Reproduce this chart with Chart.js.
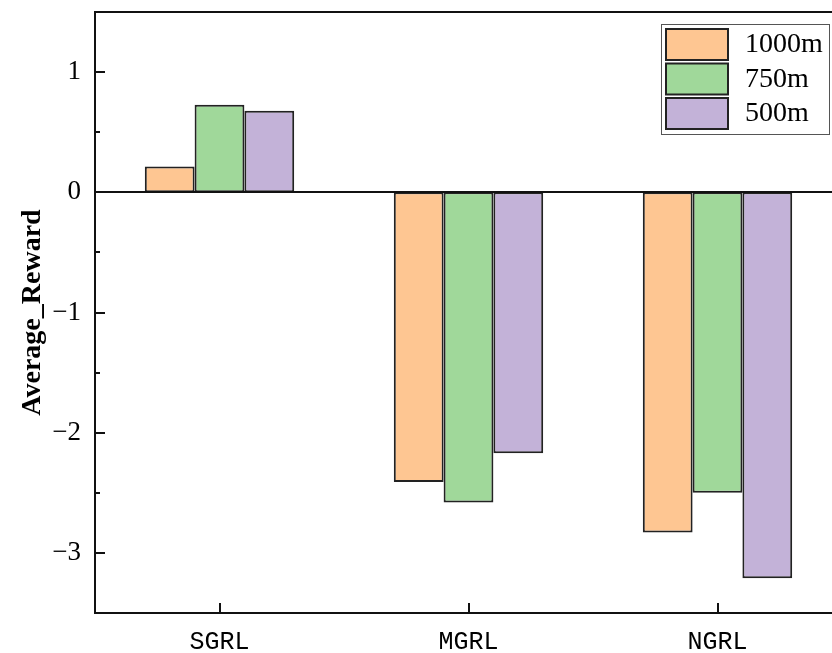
<!DOCTYPE html>
<html>
<head>
<meta charset="utf-8">
<script src="https://cdn.jsdelivr.net/npm/chart.js@4"></script>
<style>
  html, body { margin: 0; padding: 0; background: #fff; overflow: hidden; }
  #wrap { width: 852px; height: 653px; position: relative; }
</style>
</head>
<body>
<div id="wrap"><canvas id="barChart"></canvas></div>
<script>
var categories = ["SGRL", "MGRL", "NGRL"];
var seriesNames = ["1000m", "750m", "500m"];
var values1000 = [0.214, -2.41, -2.83];
var values750 = [0.728, -2.58, -2.50];
var values500 = [0.678, -2.17, -3.21];
var yTicks = [-3, -2, -1, 0, 1];
var yMin = -3.5, yMax = 1.5;

var fills = ['#fec692', '#a0d89a', '#c3b2d8'];

// frame, zero line, inward ticks
var framePlugin = {
  id: 'frame',
  afterDraw: function (chart) {
    var ctx = chart.ctx, a = chart.chartArea;
    var y = chart.scales.y, x = chart.scales.x;
    ctx.save();
    ctx.strokeStyle = '#111';
    ctx.lineWidth = 2;
    ctx.strokeRect(a.left, a.top, a.right - a.left, a.bottom - a.top);
    var z = Math.round(y.getPixelForValue(0));
    ctx.beginPath();
    ctx.moveTo(a.left, z); ctx.lineTo(a.right, z);
    ctx.stroke();
    ctx.beginPath();
    for (var v = Math.ceil(yMin * 2) / 2; v < yMax; v += 0.5) {
      var py = Math.round(y.getPixelForValue(v));
      var len = (v % 1 === 0) ? 10 : 5;
      ctx.moveTo(a.left, py); ctx.lineTo(a.left + len, py);
    }
    for (var i = 0; i < categories.length; i++) {
      var px = Math.round(x.getPixelForValue(i));
      ctx.moveTo(px, a.bottom); ctx.lineTo(px, a.bottom - 10);
    }
    ctx.stroke();
    ctx.restore();
  }
};

// legend box in upper right of plot
var legendPlugin = {
  id: 'boxLegend',
  afterDraw: function (chart) {
    var ctx = chart.ctx, a = chart.chartArea;
    var bx = a.right - 181, by = a.top + 12, bw = 168, bh = 110;
    ctx.save();
    ctx.fillStyle = '#fff';
    ctx.fillRect(bx, by, bw, bh);
    ctx.strokeStyle = '#555';
    ctx.lineWidth = 1;
    ctx.strokeRect(bx + 0.5, by + 0.5, bw, bh);
    ctx.font = '28px "Liberation Serif"';
    ctx.textBaseline = 'middle';
    chart.data.datasets.forEach(function (ds, i) {
      var sy = by + 5 + i * 34.5;
      ctx.fillStyle = ds.backgroundColor;
      ctx.fillRect(bx + 5, sy, 62, 31);
      ctx.strokeStyle = '#222';
      ctx.lineWidth = 2;
      ctx.strokeRect(bx + 5, sy, 62, 31);
      ctx.fillStyle = '#000';
      ctx.fillText(ds.label, bx + 84, sy + 16);
    });
    ctx.restore();
  }
};

var ctxB = document.getElementById('barChart').getContext('2d');
var myBarChart = new Chart(ctxB, {
  type: 'bar',
  data: {
    labels: categories,
    datasets: [
      { label: seriesNames[0], data: values1000, backgroundColor: fills[0], borderColor: '#222', borderWidth: 2, borderSkipped: false },
      { label: seriesNames[1], data: values750, backgroundColor: fills[1], borderColor: '#222', borderWidth: 2, borderSkipped: false },
      { label: seriesNames[2], data: values500, backgroundColor: fills[2], borderColor: '#222', borderWidth: 2, borderSkipped: false }
    ]
  },
  options: {
    responsive: true,
    maintainAspectRatio: false,
    animation: false,
    layout: { padding: { left: 0, top: 12, right: 10, bottom: 0 } },
    datasets: { bar: { categoryPercentage: 0.6, barPercentage: 1 } },
    plugins: { legend: { display: false }, tooltip: { enabled: false } },
    scales: {
      x: {
        grid: { display: false, drawTicks: false },
        border: { display: false },
        ticks: { color: '#000', padding: 14, font: { family: '"Liberation Mono"', size: 25 } },
        afterFit: function (s) { s.height = 40; }
      },
      y: {
        min: yMin,
        max: yMax,
        grid: { display: false, drawTicks: false },
        border: { display: false },
        afterBuildTicks: function (s) {
          s.ticks = yTicks.map(function (v) { return { value: v }; });
        },
        ticks: {
          color: '#000',
          padding: 14,
          font: { family: '"Liberation Serif"', size: 27 },
          callback: function (v) { return v < 0 ? '\u2212' + Math.abs(v) : String(v); }
        },
        title: {
          display: true,
          text: 'Average_Reward',
          color: '#000',
          padding: { top: 16, bottom: 0 },
          font: { family: '"Liberation Serif"', size: 28, weight: 'bold' }
        },
        afterFit: function (s) { s.width = 95; s.paddingTop = 0; s.paddingBottom = 0; }
      }
    }
  },
  plugins: [framePlugin, legendPlugin]
});
</script>
</body>
</html>
